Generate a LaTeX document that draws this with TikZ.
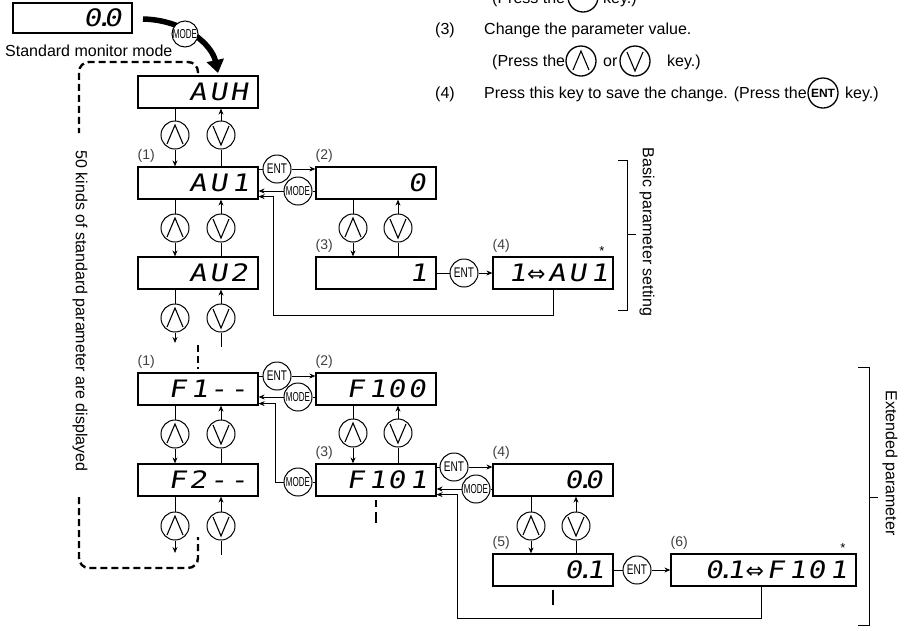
\documentclass[tikz,border=0pt]{standalone}
\usepackage{fontspec}
\usepackage{graphicx}
\setmainfont{Liberation Sans}
\newfontfamily\segfont[FakeSlant=0.18,FakeStretch=1.22]{DejaVu Sans Mono}
\newfontfamily\dvs{DejaVu Sans}
\usetikzlibrary{arrows.meta}
\newcommand\dispfont{\segfont\fontsize{24}{24}\selectfont}
\newcommand\cel[1]{\makebox[20.5pt]{#1}}
\newcommand\rone{\makebox[20.5pt][r]{1}}
\newcommand\dpt[1]{\makebox[20.5pt]{#1\rlap{\kern-6pt.}}}
\newcommand\darr{\makebox[20.5pt]{\dvs\fontsize{22}{22}\selectfont ⇔}}
\newcommand\keylabel[3]{\scalebox{#1}[1]{\fontsize{#2}{#2}\selectfont #3}}
\newcommand\updown[4]{%
  \draw[ln] (#1.south -| #3) -- (#3.north);
  \draw[arr] (#3.south) -- (#2.north -| #3);
  \draw[ln] (#2.north -| #4) -- (#4.south);
  \draw[arr] (#4.north) -- (#1.south -| #4);}
\tikzset{
  disp/.style={draw, line width=1.2pt, fill=white, minimum height=32pt, inner xsep=9pt, inner ysep=0pt, text width=102pt, align=right, font=\dispfont},
  key/.style={circle, draw, line width=1pt, fill=white, minimum size=28pt, inner sep=0pt},
  bigkey/.style={minimum size=30pt, line width=1.3pt},
  chev/.style={line width=1.1pt},
  upkey/.style={key, path picture={\draw[chev] ([shift={(-8pt,-9pt)}]path picture bounding box.center) -- ([shift={(0pt,10pt)}]path picture bounding box.center) -- ([shift={(8pt,-9pt)}]path picture bounding box.center);}},
  dnkey/.style={key, path picture={\draw[chev] ([shift={(-8pt,9pt)}]path picture bounding box.center) -- ([shift={(0pt,-10pt)}]path picture bounding box.center) -- ([shift={(8pt,9pt)}]path picture bounding box.center);}},
  ln/.style={line width=0.9pt},
  arr/.style={ln, -{Stealth[length=6pt,width=5pt]}},
  dsh/.style={line width=2.4pt, dash pattern=on 7pt off 4pt},
  lab/.style={font=\fontsize{14}{14}\selectfont, text=black!75, anchor=base west, inner sep=0pt},
  txt/.style={font=\fontsize{16}{19}\selectfont, anchor=base west, inner sep=0pt},
  star/.style={font=\fontsize{13}{13}\selectfont, inner sep=0pt},
}
\begin{document}
\begin{tikzpicture}[x=1pt,y=-1pt]
\useasboundingbox (0,0) rectangle (908,630);
\clip (0,0) rectangle (908,630);
% ---------- top-right instructions
\node[txt] (r1a) at (492,3) {(Press the};
\node[key, bigkey] (r1k) at (583,-3) {};
\node[txt] (r1b) at (603,3) {key.)};
\node[txt] (r3n) at (435,34) {(3)};
\node[txt] (r3t) at (484,34) {Change the parameter value.};
\node[txt] (r3a) at (492,66) {(Press the};
\node[upkey, bigkey] (r3u) at (581,61) {};
\node[txt] (r3o) at (603,66) {or};
\node[dnkey, bigkey] (r3d) at (635,61) {};
\node[txt] (r3b) at (667,66) {key.)};
\node[txt] (r4n) at (435,98) {(4)};
\node[txt] (r4t) at (484,98) {Press this key to save the change. (Press the};
\node[key, bigkey, font=\bfseries\fontsize{12}{12}\selectfont] (r4k) at (823,93) {ENT};
\node[txt] (r4b) at (845,98) {key.)};
% ---------- monitor
\node[disp, minimum height=30pt, text width=101pt] (mon) at (72.5,18) {\dpt{0}\cel{0}};
\node[txt] (smm) at (5,56) {Standard monitor mode};
\coordinate (ms) at (143,19);
\coordinate (me) at (218,73);
\draw[line width=5.5pt, -{Triangle[length=13pt,width=17pt]}] (ms) .. controls (185,20) and (212,45) .. (me);
\node[key, minimum size=26pt] (mk) at (185,34) {\keylabel{0.62}{13}{MODE}};
% dashed loop
\coordinate (dl1) at (198,73);
\coordinate (dl2) at (79,133);
\coordinate (dl3) at (79,497);
\coordinate (dl4) at (198,537);
\draw[dsh, rounded corners=10pt] (dl1) -- (198,62) -- (79,62) -- (dl2);
\draw[dsh, rounded corners=10pt] (dl3) -- (79,568) -- (198,568) -- (dl4);
\node[font=\fontsize{16}{19}\selectfont, rotate=-90, inner sep=0pt] (vt) at (80,311) {50 kinds of standard parameter are displayed};
% ---------- displays
\node[disp] (auh) at (198,92) {\cel{A}\cel{U}\cel{H}};
\node[disp] (au1) at (198,183) {\cel{A}\cel{U}\rone};
\node[disp] (au2) at (198,273) {\cel{A}\cel{U}\cel{2}};
\node[disp] (f1) at (198,389) {\cel{F}\rone\cel{-}\cel{-}};
\node[disp] (f2) at (198,480) {\cel{F}\cel{2}\cel{-}\cel{-}};
\node[disp] (p2) at (376,183) {\cel{0}};
\node[disp] (p3) at (376,273) {\rone};
\node[disp, inner xsep=5pt, text width=110pt] (p4) at (553,273) {\rone\darr\cel{A}\cel{U}\rone};
\node[disp] (f100) at (376,389) {\cel{F}\rone\cel{0}\cel{0}};
\node[disp] (f101) at (376,480) {\cel{F}\rone\cel{0}\rone};
\node[disp] (e4) at (553,480) {\dpt{0}\cel{0}};
\node[disp] (e5) at (553,570) {\dpt{0}\rone};
\node[disp, text width=167pt] (e6) at (763.5,570) {\dpt{0}\rone\darr\cel{F}\rone\cel{0}\rone};
% labels
\node[lab] (l1) at ([yshift=7pt]au1.north west) {(1)};
\node[lab] (l2) at ([yshift=7pt]p2.north west) {(2)};
\node[lab] (l3) at ([yshift=7pt]p3.north west) {(3)};
\node[lab] (l4) at ([yshift=7pt]p4.north west) {(4)};
\node[lab] (l5) at ([yshift=7pt]f1.north west) {(1)};
\node[lab] (l6) at ([yshift=7pt]f100.north west) {(2)};
\node[lab] (l7) at ([yshift=7pt]f101.north west) {(3)};
\node[lab] (l8) at ([yshift=7pt]e4.north west) {(4)};
\node[lab] (l9) at ([yshift=7pt]e5.north west) {(5)};
\node[lab] (l10) at ([yshift=7pt]e6.north west) {(6)};
\node[star] (s1) at (602,251) {*};
\node[star] (s2) at (843,548) {*};
% ---------- up/down keys
\node[upkey] (u1) at (175,135) {}; \node[dnkey] (d1) at (221,135) {};
\node[upkey] (u2) at (175,228) {}; \node[dnkey] (d2) at (221,228) {};
\node[upkey] (u3) at (175,318) {}; \node[dnkey] (d3) at (221,318) {};
\node[upkey] (u4) at (175,434) {}; \node[dnkey] (d4) at (221,434) {};
\node[upkey] (u5) at (175,526) {}; \node[dnkey] (d5) at (221,526) {};
\node[upkey] (u6) at (353,228) {}; \node[dnkey] (d6) at (398,228) {};
\node[upkey] (u7) at (353,433) {}; \node[dnkey] (d7) at (398,433) {};
\node[upkey] (u8) at (531,526) {}; \node[dnkey] (d8) at (576,526) {};
\updown{auh}{au1}{u1}{d1}
\updown{au1}{au2}{u2}{d2}
\updown{f1}{f2}{u4}{d4}
\updown{p2}{p3}{u6}{d6}
\updown{f100}{f101}{u7}{d7}
\updown{e4}{e5}{u8}{d8}
\coordinate (t3u) at (175,343); \coordinate (t3d) at (221,347);
\draw[ln] (au2.south -| u3) -- (u3.north); \draw[arr] (u3.south) -- (t3u);
\draw[ln] (t3d) -- (d3.south); \draw[arr] (d3.north) -- (au2.south -| d3);
\coordinate (t5u) at (175,553); \coordinate (t5d) at (221,555);
\draw[ln] (f2.south -| u5) -- (u5.north); \draw[arr] (u5.south) -- (t5u);
\draw[ln] (t5d) -- (d5.south); \draw[arr] (d5.north) -- (f2.south -| d5);
% dashed continuation marks
\coordinate (ds1a) at (198,345); \coordinate (ds1b) at (198,369);
\coordinate (ds2a) at (376,500); \coordinate (ds2b) at (376,523);
\coordinate (ds3a) at (553,590); \coordinate (ds3b) at (553,605);
\draw[dsh] (ds1a) -- (ds1b);
\draw[line width=2.4pt] (ds2a) -- (376,507) (376,512) -- (ds2b);
\draw[line width=2.4pt] (ds3a) -- (ds3b);
% ---------- ENT / MODE keys
\node[key] (k1e) at (277,169) {\keylabel{0.72}{14}{ENT}};
\node[key] (k1m) at (298,191) {\keylabel{0.62}{13}{MODE}};
\draw[ln] (k1e.west) -- (k1e.west -| au1.east);
\draw[arr] (k1e.east) -- (k1e.east -| p2.west);
\draw[ln] (k1m.east) -- (k1m.east -| p2.west);
\draw[arr] (k1m.west) -- (k1m.west -| au1.east);
\node[key] (k5e) at (464,273) {\keylabel{0.72}{14}{ENT}};
\draw[ln] (k5e.west) -- (k5e.west -| p3.east);
\draw[arr] (k5e.east) -- (k5e.east -| p4.west);
\coordinate (rb) at (273,315);
\draw[arr] (p4.south) |- (rb) |- ([yshift=3pt]au1.south east);
\node[key] (k2e) at (277,376) {\keylabel{0.72}{14}{ENT}};
\node[key] (k2m) at (298,397) {\keylabel{0.62}{13}{MODE}};
\draw[ln] (k2e.west) -- (k2e.west -| f1.east);
\draw[arr] (k2e.east) -- (k2e.east -| f100.west);
\draw[ln] (k2m.east) -- (k2m.east -| f100.west);
\draw[arr] (k2m.west) -- (k2m.west -| f1.east);
\node[key] (k3m) at (298,482) {\keylabel{0.62}{13}{MODE}};
\draw[ln] (k3m.east) -- (k3m.east -| f101.west);
\coordinate (rf) at (275,482);
\draw[arr] (k3m.west) -- (rf) |- ([yshift=2pt]f1.south east);
\node[key] (k4e) at (454,467) {\keylabel{0.72}{14}{ENT}};
\node[key] (k4m) at (476,489) {\keylabel{0.62}{13}{MODE}};
\draw[ln] (k4e.west) -- (k4e.west -| f101.east);
\draw[arr] (k4e.east) -- (k4e.east -| e4.west);
\draw[ln] (k4m.east) -- (k4m.east -| e4.west);
\draw[arr] (k4m.west) -- (k4m.west -| f101.east);
\node[key] (k6e) at (637,570) {\keylabel{0.72}{14}{ENT}};
\draw[ln] (k6e.west) -- (k6e.west -| e5.east);
\draw[arr] (k6e.east) -- (k6e.east -| e6.west);
\coordinate (re) at (457,618);
\draw[arr] ([xshift=-2pt]e6.south) |- (re) |- ([yshift=2pt]f101.south east);
% ---------- brackets
\draw[ln] (618,160) -- (627,160) -- (627,310) -- (618,310);
\draw[ln] (627,234) -- (636,234);
\node[font=\fontsize{16}{19}\selectfont, rotate=-90, inner sep=0pt] (bps) at (647,232) {Basic parameter setting};
\draw[ln] (858,367) -- (869,367) -- (869,625) -- (858,625);
\draw[ln] (869,497) -- (878,497);
\node[font=\fontsize{16}{19}\selectfont, rotate=-90, inner sep=0pt] (ext) at (890,463) {Extended parameter};
\end{tikzpicture}
\end{document}
